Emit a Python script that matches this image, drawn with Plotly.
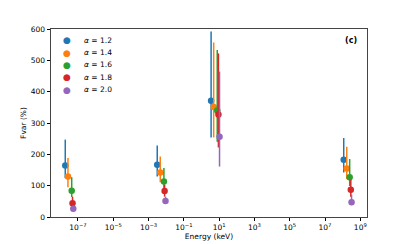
import plotly.graph_objects as go

ALPHAS = ["1.2", "1.4", "1.6", "1.8", "2.0"]
COLORS = ["#1f77b4", "#ff7f0e", "#2ca02c", "#d62728", "#9467bd"]

# Energy (keV) for each alpha across the four bands
ENERGY = {
    "1.2": [1.9e-8, 3.1e-3, 3.5e0, 1.15e8],
    "1.4": [2.7e-8, 4.6e-3, 4.9e0, 1.7e8],
    "1.6": [4.4e-8, 7.4e-3, 7.8e0, 2.5e8],
    "1.8": [4.9e-8, 8.1e-3, 9.1e0, 2.9e8],
    "2.0": [5.4e-8, 9.1e-3, 1.05e1, 3.2e8],
}
FVAR = {
    "1.2": [164, 167, 371, 183],
    "1.4": [129, 142, 351, 155],
    "1.6": [84, 113, 340, 127],
    "1.8": [44, 83, 327, 87],
    "2.0": [26, 51, 256, 47],
}
ERR_UP = {
    "1.2": [83, 61, 221, 69],
    "1.4": [59, 51, 206, 69],
    "1.6": [43, 43, 193, 58],
    "1.8": [21, 20, 195, 32],
    "2.0": [9, 14, 208, 24],
}
ERR_DOWN = {
    "1.2": [40, 38, 117, 41],
    "1.4": [34, 31, 97, 34],
    "1.6": [20, 37, 100, 28],
    "1.8": [15, 18, 105, 22],
    "2.0": [6, 9, 95, 9],
}
TICK_EXP = [-7, -5, -3, -1, 1, 3, 5, 7, 9]
Y_TICKS = [0, 100, 200, 300, 400, 500, 600]

fig = go.Figure()
for a, c in zip(ALPHAS, COLORS):
    fig.add_trace(go.Scatter(
        x=ENERGY[a], y=FVAR[a], mode="markers",
        name=f"<i>α</i> = {a}", showlegend=False,
        marker=dict(color=c, size=6.5, symbol="circle"),
        error_y=dict(type="data", symmetric=False, array=ERR_UP[a],
                     arrayminus=ERR_DOWN[a], color=c, thickness=1.5, width=0),
    ))

font = "DejaVu Sans, sans-serif"
tickvals = [10.0 ** k for k in TICK_EXP]
ticktext = [f"10<sup>{'−' if k < 0 else ''}{abs(k)}</sup>" for k in TICK_EXP]

# legend drawn as annotations (matplotlib-like compact spacing)
annotations = []
for i, (a, c) in enumerate(zip(ALPHAS, COLORS)):
    yy = 0.941 - i * 0.066
    annotations.append(dict(text="●", xref="paper", yref="paper", x=0.051, y=yy,
                            xanchor="center", yanchor="middle", showarrow=False,
                            font=dict(size=9, color=c, family=font)))
    annotations.append(dict(text=f"<i>α</i> = {a}", xref="paper", yref="paper",
                            x=0.097, y=yy, xanchor="left", yanchor="middle",
                            showarrow=False, font=dict(size=7.5, color="black", family=font)))
annotations.append(dict(text="<b>(c)</b>", xref="paper", yref="paper",
                        x=0.975, y=0.975, xanchor="right", yanchor="top",
                        showarrow=False, font=dict(size=8, family=font, color="black")))

fig.update_layout(
    width=407, height=244,
    margin=dict(l=51, r=40, t=29, b=27),
    paper_bgcolor="white", plot_bgcolor="white",
    font=dict(family=font, size=7.5, color="black"),
    showlegend=False,
    annotations=annotations,
)
fig.update_xaxes(
    type="log", range=[-8.53, 9.38], automargin=False,
    tickvals=tickvals, ticktext=ticktext,
    tickfont=dict(family=font, size=7.5, color="black"),
    ticks="outside", ticklen=3.5, tickwidth=0.8, tickcolor="black",
    showline=True, linecolor="#444", linewidth=0.8, mirror=True,
    showgrid=False, zeroline=False,
    title=dict(text="Energy (keV)", standoff=2,
               font=dict(family=font, size=7.5, color="black")),
)
fig.update_yaxes(
    range=[0, 600], tickvals=Y_TICKS, automargin=False,
    tickfont=dict(family=font, size=7.5, color="black"),
    ticks="outside", ticklen=3.5, tickwidth=0.8, tickcolor="black",
    showline=True, linecolor="#444", linewidth=0.8, mirror=True,
    showgrid=False, zeroline=False,
    title=dict(text="Fvar (%)", standoff=3,
               font=dict(family=font, size=7.5, color="black")),
)

fig.write_html("out.html", config={"displayModeBar": False},
               post_script="document.body.style.margin='0';document.body.style.overflow='hidden';")
